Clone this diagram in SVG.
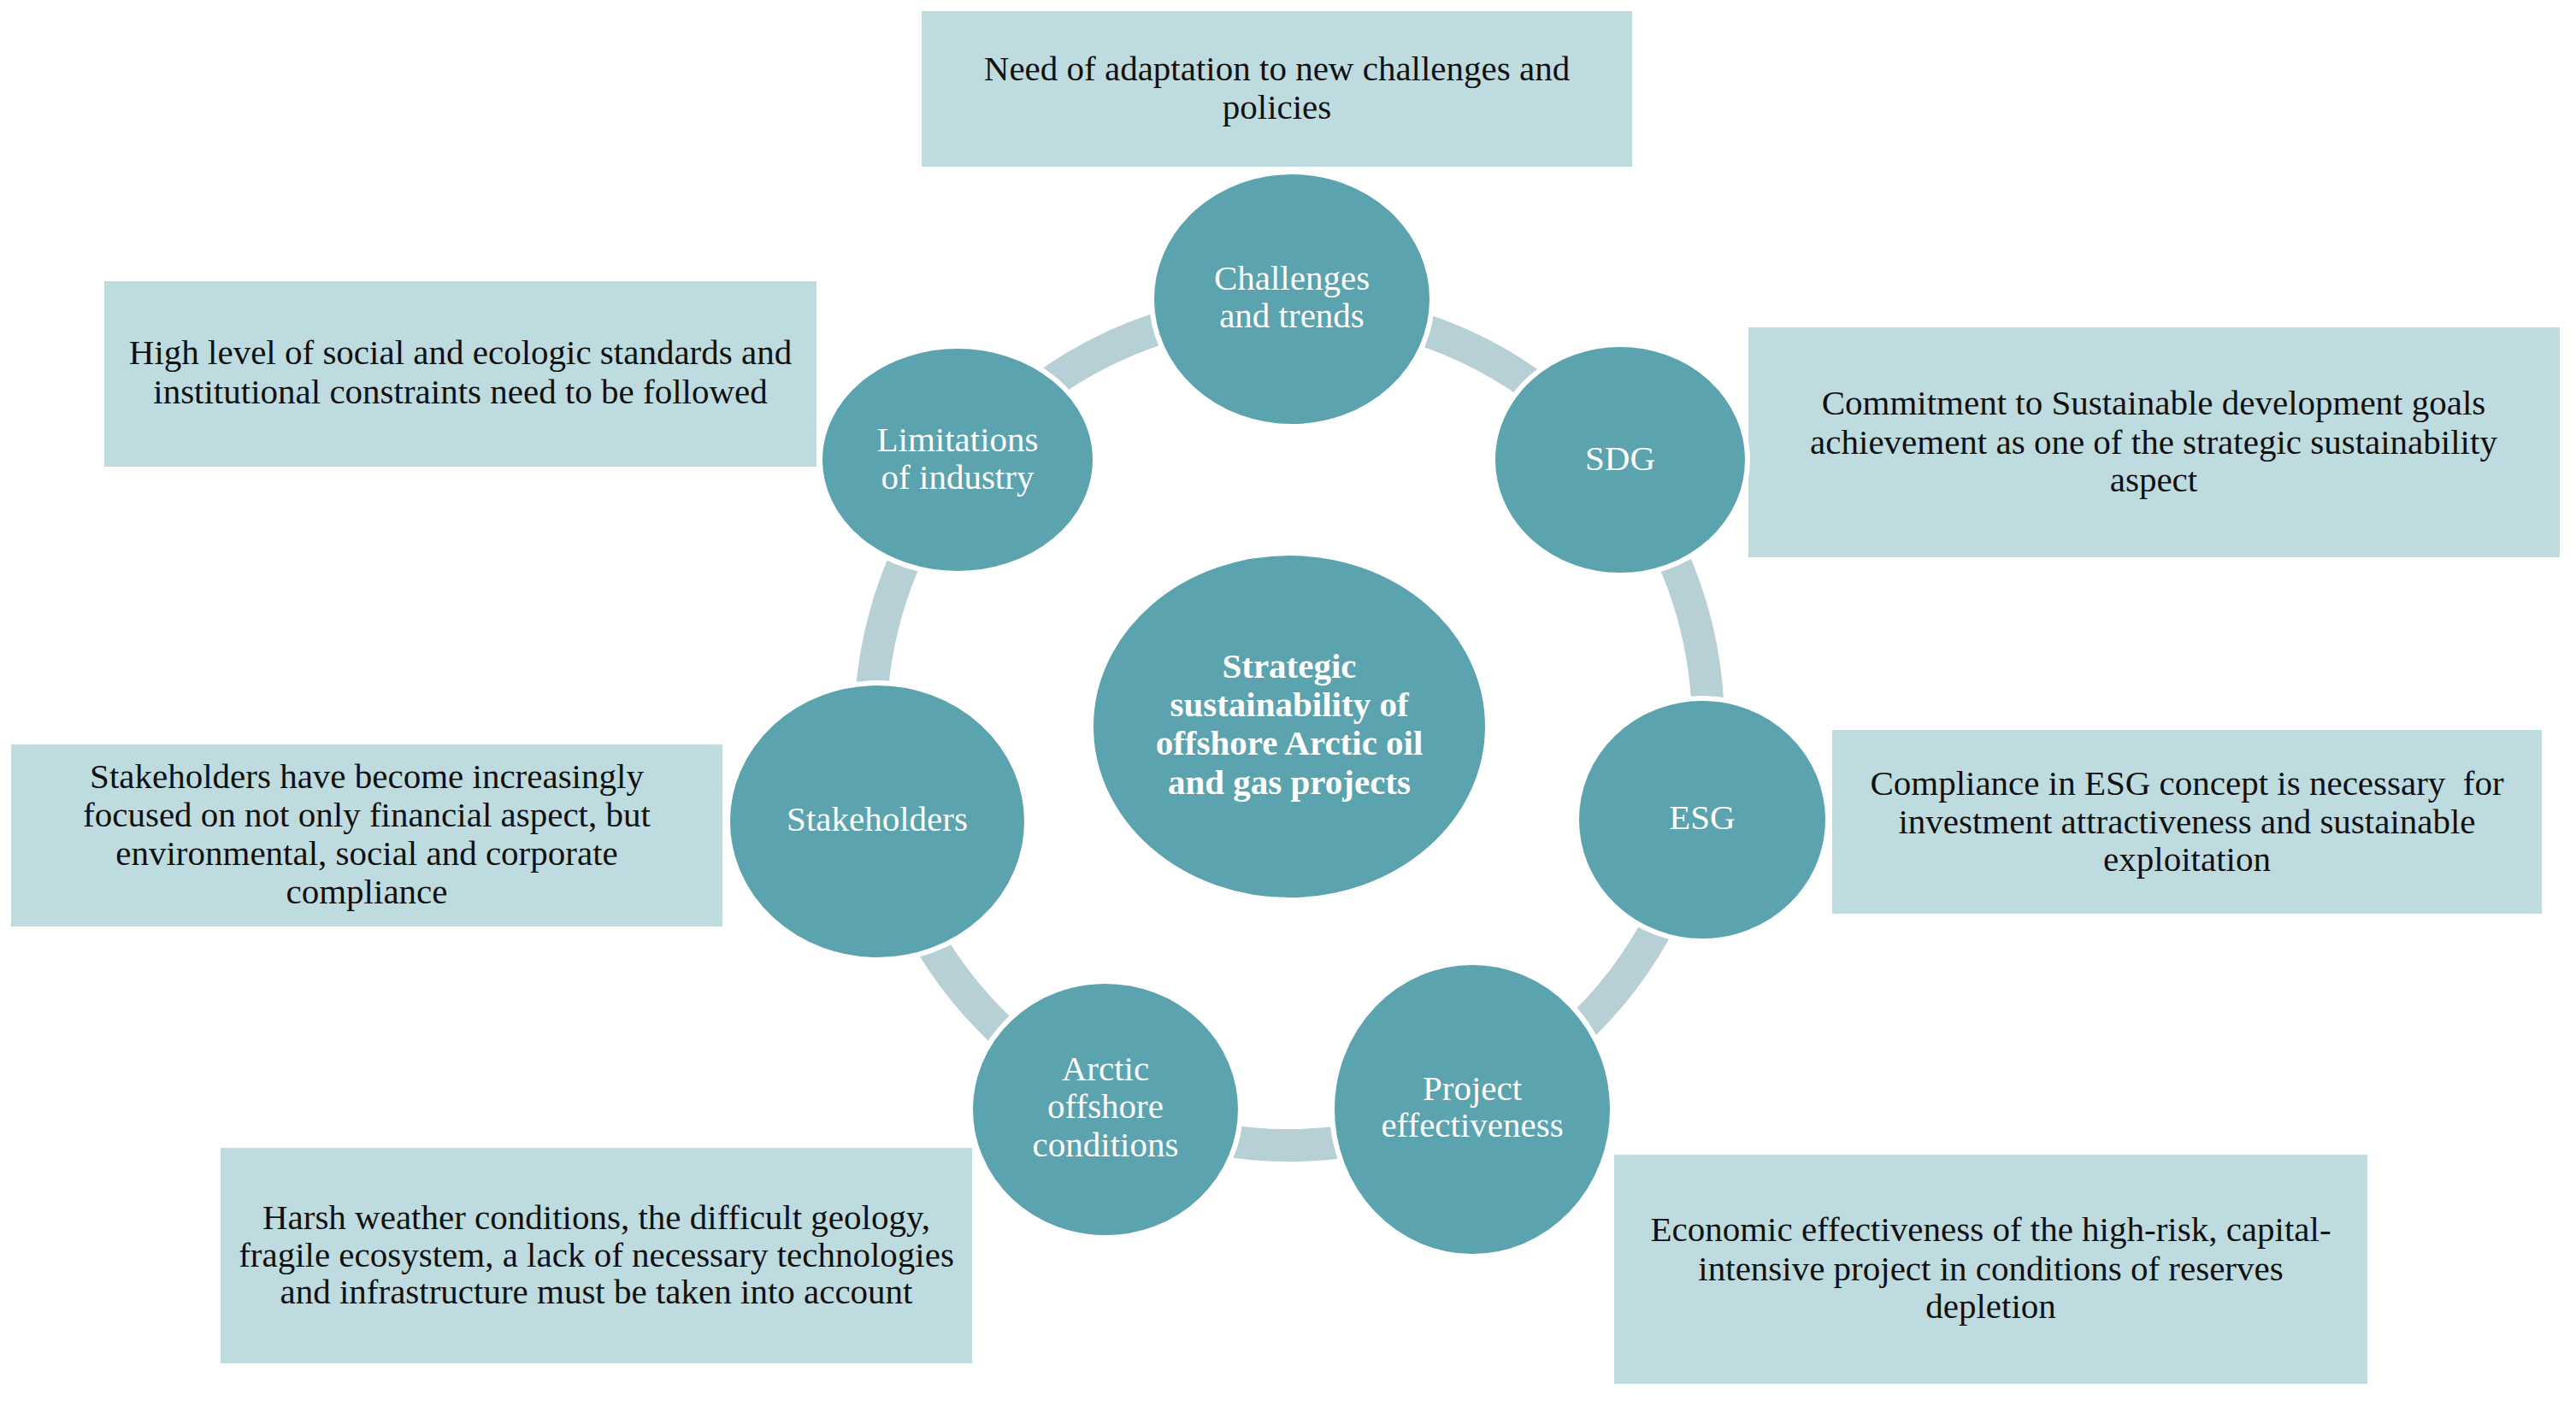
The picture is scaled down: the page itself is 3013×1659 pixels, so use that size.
<svg xmlns="http://www.w3.org/2000/svg" width="3013" height="1659" viewBox="0 0 3013 1659">
  <style>
    .box { fill: #bedbe0; }
    .node { fill: #5ba3af; stroke: #ffffff; stroke-width: 6; }
    .ring { fill: none; stroke: #b7d0d5; stroke-width: 38; stroke-linecap: butt; }
    .bt { font-family: "Liberation Serif", "Times New Roman", serif; font-size: 41px; fill: #111111; text-anchor: middle; }
    .nt { font-family: "Liberation Serif", "Times New Roman", serif; font-size: 41px; fill: #ffffff; text-anchor: middle; }
    .ct { font-family: "Liberation Serif", "Times New Roman", serif; font-size: 41px; font-weight: bold; fill: #ffffff; text-anchor: middle; }
  </style>
  <rect x="0" y="0" width="3013" height="1659" fill="#ffffff"/>

  <g id="connectors">
    <path class="ring" d="M 1633.6 376.4 A 490 490 0 0 1 1811.2 465.1"/>
    <path class="ring" d="M 1950.8 640.0 A 490 490 0 0 1 1997.9 840.2"/>
    <path class="ring" d="M 1945.1 1071.4 A 490 490 0 0 1 1837.8 1212.4"/>
    <path class="ring" d="M 1585.6 1333.8 A 490 490 0 0 1 1416.1 1331.3"/>
    <path class="ring" d="M 1189.0 1222.0 A 490 490 0 0 1 1080.5 1089.5"/>
    <path class="ring" d="M 1018.9 819.8 A 490 490 0 0 1 1066.4 637.7"/>
    <path class="ring" d="M 1202.8 466.7 A 490 490 0 0 1 1382.4 376.4"/>
  </g>

  <g id="box-adaptation">
    <rect class="box" x="1078" y="13" width="831" height="182"/>
    <text class="bt" x="1493.5" y="94">Need of adaptation to new challenges and</text>
    <text class="bt" x="1493.5" y="139">policies</text>
  </g>
  <g id="box-limitations">
    <rect class="box" x="122" y="329" width="833" height="217"/>
    <text class="bt" x="538.5" y="426">High level of social and ecologic standards and</text>
    <text class="bt" x="538.5" y="472">institutional constraints need to be followed</text>
  </g>
  <g id="box-stakeholders">
    <rect class="box" x="13" y="871" width="832" height="213"/>
    <text class="bt" x="429" y="922">Stakeholders have become increasingly</text>
    <text class="bt" x="429" y="967">focused on not only financial aspect, but</text>
    <text class="bt" x="429" y="1012">environmental, social and corporate</text>
    <text class="bt" x="429" y="1057">compliance</text>
  </g>
  <g id="box-sdg">
    <rect class="box" x="2045" y="383" width="949" height="269"/>
    <text class="bt" x="2519" y="485">Commitment to Sustainable development goals</text>
    <text class="bt" x="2519" y="531">achievement as one of the strategic sustainability</text>
    <text class="bt" x="2519" y="575">aspect</text>
  </g>
  <g id="box-esg">
    <rect class="box" x="2143" y="854" width="830" height="215"/>
    <text class="bt" x="2558" y="930">Compliance in ESG concept is necessary&#160; for</text>
    <text class="bt" x="2558" y="975">investment attractiveness and sustainable</text>
    <text class="bt" x="2558" y="1019">exploitation</text>
  </g>
  <g id="box-arctic">
    <rect class="box" x="258" y="1343" width="879" height="252"/>
    <text class="bt" x="697.5" y="1438">Harsh weather conditions, the difficult geology,</text>
    <text class="bt" x="697.5" y="1482">fragile ecosystem, a lack of necessary technologies</text>
    <text class="bt" x="697.5" y="1525">and infrastructure must be taken into account</text>
  </g>
  <g id="box-project">
    <rect class="box" x="1888" y="1351" width="881" height="268"/>
    <text class="bt" x="2328.5" y="1452">Economic effectiveness of the high-risk, capital-</text>
    <text class="bt" x="2328.5" y="1498">intensive project in conditions of reserves</text>
    <text class="bt" x="2328.5" y="1542">depletion</text>
  </g>

  <g id="node-center">
    <ellipse class="node" cx="1508" cy="850" rx="232" ry="203"/>
    <text class="ct" x="1508" y="793">Strategic</text>
    <text class="ct" x="1508" y="838">sustainability of</text>
    <text class="ct" x="1508" y="883">offshore Arctic oil</text>
    <text class="ct" x="1508" y="929">and gas projects</text>
  </g>
  <g id="node-challenges">
    <ellipse class="node" cx="1511" cy="350" rx="164" ry="149"/>
    <text class="nt" x="1511" y="339">Challenges</text>
    <text class="nt" x="1511" y="383">and trends</text>
  </g>
  <g id="node-sdg">
    <ellipse class="node" cx="1895" cy="538" rx="149" ry="135"/>
    <text class="nt" x="1895" y="550">SDG</text>
  </g>
  <g id="node-esg">
    <ellipse class="node" cx="1991" cy="959" rx="147" ry="142"/>
    <text class="nt" x="1991" y="970">ESG</text>
  </g>
  <g id="node-project">
    <ellipse class="node" cx="1722" cy="1298" rx="164" ry="172"/>
    <text class="nt" x="1722" y="1287">Project</text>
    <text class="nt" x="1722" y="1330">effectiveness</text>
  </g>
  <g id="node-arctic">
    <ellipse class="node" cx="1293" cy="1298" rx="158" ry="150"/>
    <text class="nt" x="1293" y="1264">Arctic</text>
    <text class="nt" x="1293" y="1308">offshore</text>
    <text class="nt" x="1293" y="1353">conditions</text>
  </g>
  <g id="node-stakeholders">
    <ellipse class="node" cx="1026" cy="961" rx="175" ry="162"/>
    <text class="nt" x="1026" y="972">Stakeholders</text>
  </g>
  <g id="node-limitations">
    <ellipse class="node" cx="1120" cy="538" rx="161" ry="133"/>
    <text class="nt" x="1120" y="528">Limitations</text>
    <text class="nt" x="1120" y="572">of industry</text>
  </g>
</svg>
